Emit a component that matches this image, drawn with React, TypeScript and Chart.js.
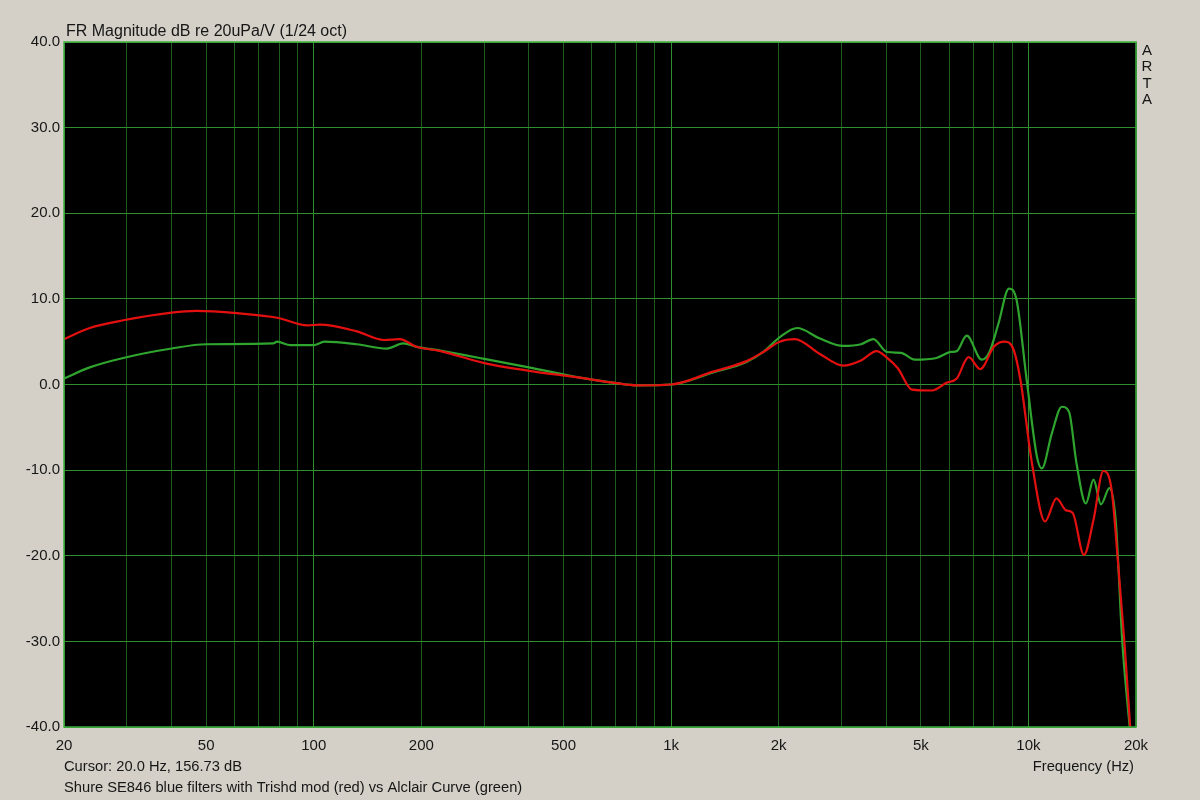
import React, { useEffect, useRef } from "react";
import { Chart, registerables } from "chart.js";

Chart.register(...registerables);

// ---- data ----
const redFreq = [20, 23.6, 29.3, 40, 47, 62, 79, 96, 104, 132, 157, 174, 194, 226, 300, 400, 556, 704, 803, 1000, 1310, 1620, 1812, 2012, 2220, 2600, 3032, 3400, 3760, 4000, 4310, 4720, 5370, 5900, 6300, 6800, 7330, 8000, 8300, 8600, 9100, 9500, 10230, 11130, 11980, 12750, 13300, 14300, 15210, 16200, 17090, 17820, 18600, 19300];
const redDb = [5.3, 6.6, 7.5, 8.4, 8.6, 8.3, 7.8, 6.9, 7.0, 6.2, 5.2, 5.3, 4.4, 3.9, 2.5, 1.6, 0.8, 0.15, -0.1, 0.0, 1.5, 2.7, 3.8, 5.0, 5.3, 3.6, 2.2, 2.8, 3.9, 3.2, 1.9, -0.6, -0.7, 0.2, 0.7, 3.2, 1.8, 4.4, 4.9, 5.0, 4.0, 0.5, -9.2, -16.0, -13.3, -14.7, -15.0, -19.9, -15.8, -10.1, -12.3, -20.9, -30.6, -40.5];

const greenFreq = [20, 23.6, 29.3, 40, 50, 77, 79, 86, 100, 107, 132, 160, 178, 194, 226, 300, 400, 556, 704, 803, 1000, 1310, 1620, 1812, 2012, 2252, 2600, 3032, 3400, 3680, 4020, 4400, 4800, 5530, 6060, 6300, 6720, 7400, 7780, 8240, 8820, 9260, 9890, 10560, 10900, 11630, 12400, 12990, 13630, 14480, 15210, 15960, 16850, 17540, 18320, 19250];
const greenDb = [0.7, 2.0, 3.1, 4.2, 4.7, 4.8, 5.0, 4.6, 4.6, 5.0, 4.7, 4.2, 4.8, 4.4, 3.95, 3.0, 2.0, 0.8, 0.15, -0.1, 0.0, 1.4, 2.6, 3.8, 5.5, 6.6, 5.4, 4.5, 4.7, 5.3, 3.8, 3.7, 2.9, 3.1, 3.8, 3.9, 5.7, 2.9, 3.8, 7.1, 11.2, 9.9, 0.5, -8.4, -9.8, -5.7, -2.6, -3.2, -9.2, -13.9, -11.1, -14.0, -12.1, -15.8, -30.2, -40.5];

const gridFreqs = [20, 30, 40, 50, 60, 70, 80, 90, 100, 200, 300, 400, 500, 600, 700, 800, 900, 1000, 2000, 3000, 4000, 5000, 6000, 7000, 8000, 9000, 10000, 20000];
const xLabelValues = [20, 50, 100, 200, 500, 1000, 2000, 5000, 10000, 20000];
const xLabelTexts = ["20", "50", "100", "200", "500", "1k", "2k", "5k", "10k", "20k"];
const decadeFreqs = [100, 1000, 10000];
const yTickValues = [-40, -30, -20, -10, 0, 10, 20, 30, 40];

const titleText = "FR Magnitude dB re 20uPa/V (1/24 oct)";
const cursorText = "Cursor: 20.0 Hz, 156.73 dB";
const captionText = "Shure SE846 blue filters with Trishd mod (red) vs Alclair Curve (green)";
const xAxisTitle = "Frequency (Hz)";
const sideLetters = ["A", "R", "T", "A"];

const FONT = "'Liberation Sans', Arial, sans-serif";
const TEXT = "#161616";
const MAJOR_GRID = "#2f8f2f";
const MINOR_GRID = "#1d5c1d";

const frame = {
  id: "frame",
  beforeDraw(chart: any) {
    const { ctx, chartArea } = chart;
    ctx.save();
    ctx.fillStyle = "#d4d0c8";
    ctx.fillRect(0, 0, chart.width, chart.height);
    ctx.fillStyle = "#000000";
    ctx.fillRect(chartArea.left, chartArea.top, chartArea.right - chartArea.left, chartArea.bottom - chartArea.top);
    ctx.restore();
  },
  afterDraw(chart: any) {
    const { ctx, chartArea } = chart;
    ctx.save();
    ctx.strokeStyle = "#3fae3f";
    ctx.lineWidth = 1.5;
    ctx.strokeRect(chartArea.left, chartArea.top, chartArea.right - chartArea.left, chartArea.bottom - chartArea.top);
    ctx.fillStyle = TEXT;
    ctx.font = `16px ${FONT}`;
    ctx.textAlign = "left";
    ctx.textBaseline = "alphabetic";
    ctx.fillText(titleText, 66, 36);
    ctx.font = `14.7px ${FONT}`;
    ctx.textBaseline = "middle";
    ctx.fillText(cursorText, 64, 767);
    ctx.fillText(captionText, 64, 788);
    ctx.textAlign = "right";
    ctx.fillText(xAxisTitle, 1134, 767);
    ctx.font = `15px ${FONT}`;
    ctx.textAlign = "center";
    sideLetters.forEach((l, i) => ctx.fillText(l, 1147, 51 + i * 16.3));
    ctx.restore();
  },
};

export default function App() {
  const ref = useRef<HTMLCanvasElement>(null);
  useEffect(() => {
    if (!ref.current) return;
    const chart = new Chart(ref.current, {
      type: "line",
      data: {
        datasets: [
          {
            label: "red",
            data: redFreq.map((f, i) => ({ x: f, y: redDb[i] })),
            borderColor: "#e41010",
            borderWidth: 2.2,
            pointRadius: 0,
            cubicInterpolationMode: "monotone",
            fill: false,
          },
          {
            label: "green",
            data: greenFreq.map((f, i) => ({ x: f, y: greenDb[i] })),
            borderColor: "#2fa52f",
            borderWidth: 2.2,
            pointRadius: 0,
            cubicInterpolationMode: "monotone",
            fill: false,
          },
        ],
      },
      options: {
        responsive: false,
        animation: false,
        events: [],
        layout: { padding: { left: 0, top: 42, right: 64, bottom: 0 } },
        plugins: { legend: { display: false }, tooltip: { enabled: false }, title: { display: false } },
        scales: {
          x: {
            type: "logarithmic",
            min: 20,
            max: 20000,
            afterBuildTicks: (scale: any) => {
              scale.ticks = gridFreqs.map((v) => ({ value: v }));
            },
            afterFit: (scale: any) => {
              scale.height = 73;
            },
            ticks: {
              autoSkip: false,
              maxRotation: 0,
              padding: 10,
              color: TEXT,
              font: { family: FONT, size: 15 },
              callback: (v: any) => {
                const i = xLabelValues.indexOf(Number(v));
                return i >= 0 ? xLabelTexts[i] : "";
              },
            },
            grid: {
              drawTicks: false,
              lineWidth: 1,
              color: gridFreqs.map((f) => (decadeFreqs.includes(f) ? MAJOR_GRID : MINOR_GRID)),
            },
            border: { display: false },
          },
          y: {
            min: -40,
            max: 40,
            afterBuildTicks: (scale: any) => {
              scale.ticks = yTickValues.map((v) => ({ value: v }));
            },
            afterFit: (scale: any) => {
              scale.width = 64;
            },
            ticks: {
              padding: 4,
              color: TEXT,
              font: { family: FONT, size: 15 },
              callback: (v: any) => Number(v).toFixed(1),
            },
            grid: { drawTicks: false, lineWidth: 1, color: MAJOR_GRID },
            border: { display: false },
          },
        },
      },
      plugins: [frame],
    } as any);
    return () => chart.destroy();
  }, []);
  return (
    <div style={{ position: "fixed", left: 0, top: 0, width: 1200, height: 800, background: "#d4d0c8" }}>
      <canvas ref={ref} width={1200} height={800} style={{ display: "block" }} />
    </div>
  );
}
